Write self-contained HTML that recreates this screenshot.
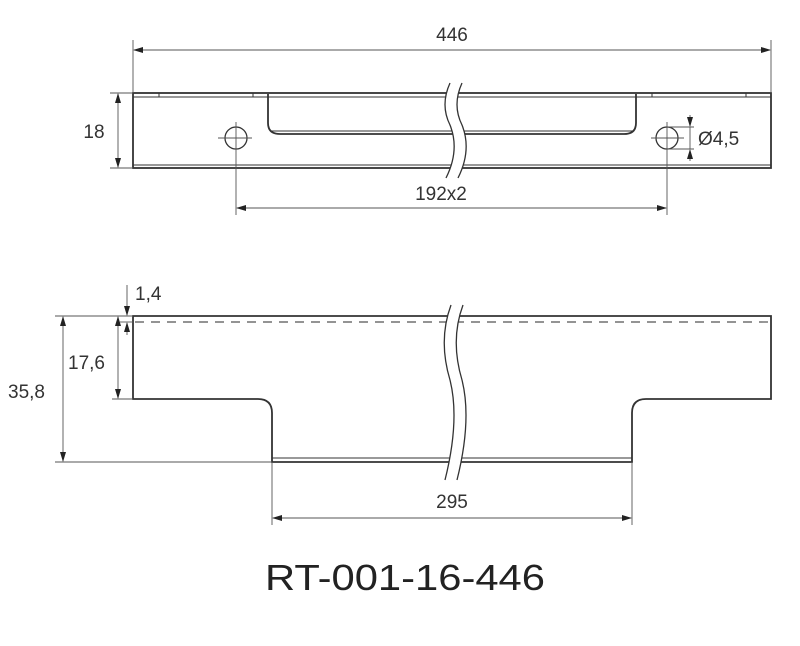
<!DOCTYPE html>
<html><head><style>body{margin:0;background:#fff}svg{display:block}</style></head><body>
<svg width="800" height="646" viewBox="0 0 800 646" xmlns="http://www.w3.org/2000/svg" font-family="Liberation Sans, sans-serif">
<defs>
<marker id="a" markerWidth="10" markerHeight="6" refX="9" refY="3" orient="auto" markerUnits="userSpaceOnUse"><path d="M0,0 L10,3 L0,6z" fill="#222"/></marker>
<marker id="b" markerWidth="10" markerHeight="6" refX="1" refY="3" orient="auto" markerUnits="userSpaceOnUse"><path d="M10,0 L0,3 L10,6z" fill="#222"/></marker>
</defs>
<g stroke="#333" fill="none" stroke-width="1.8">
<!-- top view -->
<rect x="133" y="93" width="638" height="75"/>
<line x1="133" y1="97" x2="771" y2="97" stroke-width="1"/>
<line x1="133" y1="165" x2="771" y2="165" stroke-width="1"/>
<line x1="159" y1="93" x2="159" y2="97" stroke-width="1"/>
<line x1="253" y1="93" x2="253" y2="97" stroke-width="1"/>
<line x1="652" y1="93" x2="652" y2="97" stroke-width="1"/>
<line x1="746" y1="93" x2="746" y2="97" stroke-width="1"/>
<path d="M268 94 V123 Q268 134 280 134 H624 Q636 134 636 123 V94"/>
<line x1="270" y1="131" x2="634" y2="131" stroke-width="1"/>
<circle cx="236" cy="138" r="11" stroke-width="1.3"/>
<circle cx="667" cy="138" r="11" stroke-width="1.3"/>
<!-- bottom view -->
<path d="M133 316 H771 V399 H646 Q632 399 632 413 V462 H272 V413 Q272 399 258 399 H133 Z"/>
<line x1="272" y1="458" x2="632" y2="458" stroke-width="1"/>
<line x1="135" y1="322" x2="769" y2="322" stroke-dasharray="9,7" stroke-width="1.2" stroke="#555"/>
</g>
<!-- breaks -->
<g stroke="#333" stroke-width="1.3">
<path d="M450 83 Q440 105 450 125 Q460 150 446 178 L458 178 Q472 150 462 125 Q452 105 462 83 Z" fill="#fff" stroke="none"/>
<path d="M450 83 Q440 105 450 125 Q460 150 446 178" fill="none"/>
<path d="M462 83 Q452 105 462 125 Q472 150 458 178" fill="none"/>
<path d="M451 305 Q438 340 450 380 Q460 420 445 480 L457 480 Q472 420 462 380 Q450 340 463 305 Z" fill="#fff" stroke="none"/>
<path d="M451 305 Q438 340 450 380 Q460 420 445 480" fill="none"/>
<path d="M463 305 Q450 340 462 380 Q472 420 457 480" fill="none"/>
</g>
<g stroke="#555" stroke-width="0.9" fill="none">
<!-- 446 -->
<line x1="133" y1="40" x2="133" y2="93"/><line x1="771" y1="40" x2="771" y2="93"/>
<line x1="134" y1="50" x2="770" y2="50" marker-start="url(#b)" marker-end="url(#a)"/>
<!-- 18 -->
<line x1="110" y1="93" x2="133" y2="93"/><line x1="110" y1="168" x2="133" y2="168"/>
<line x1="118" y1="94" x2="118" y2="167" marker-start="url(#b)" marker-end="url(#a)"/>
<!-- hole centers -->
<line x1="236" y1="122" x2="236" y2="215"/><line x1="218" y1="138" x2="252" y2="138"/>
<line x1="667" y1="122" x2="667" y2="215"/><line x1="651" y1="138" x2="684" y2="138"/>
<line x1="237" y1="208" x2="666" y2="208" marker-start="url(#b)" marker-end="url(#a)"/>
<!-- dia -->
<line x1="667" y1="127" x2="694" y2="127"/><line x1="667" y1="149" x2="694" y2="149"/>
<line x1="690" y1="115" x2="690" y2="126" marker-end="url(#a)"/>
<line x1="690" y1="161" x2="690" y2="150" marker-end="url(#a)"/>
<line x1="690" y1="127" x2="690" y2="149"/>
<!-- bottom dims -->
<line x1="55" y1="316" x2="133" y2="316"/><line x1="55" y1="462" x2="272" y2="462"/>
<line x1="63" y1="317" x2="63" y2="461" marker-start="url(#b)" marker-end="url(#a)"/>
<line x1="112" y1="399" x2="133" y2="399"/>
<line x1="118" y1="317" x2="118" y2="398" marker-start="url(#b)" marker-end="url(#a)"/>
<line x1="127" y1="285" x2="127" y2="315" marker-end="url(#a)"/>
<line x1="127" y1="335" x2="127" y2="323" marker-end="url(#a)"/>
<line x1="120" y1="322" x2="133" y2="322"/>
<line x1="272" y1="462" x2="272" y2="525"/><line x1="632" y1="462" x2="632" y2="525"/>
<line x1="273" y1="518" x2="631" y2="518" marker-start="url(#b)" marker-end="url(#a)"/>
</g>
<g fill="#333" font-size="19">
<text x="452" y="41" text-anchor="middle">446</text>
<text x="94" y="138" text-anchor="middle">18</text>
<text x="441" y="200" text-anchor="middle">192x2</text>
<text x="698" y="145">Ø4,5</text>
<text x="135" y="300">1,4</text>
<text x="68" y="369">17,6</text>
<text x="8" y="398">35,8</text>
<text x="452" y="508" text-anchor="middle">295</text>
</g>
<text x="265" y="590" font-size="36" fill="#222" textLength="280" lengthAdjust="spacingAndGlyphs">RT-001-16-446</text>
</svg>
</body></html>
